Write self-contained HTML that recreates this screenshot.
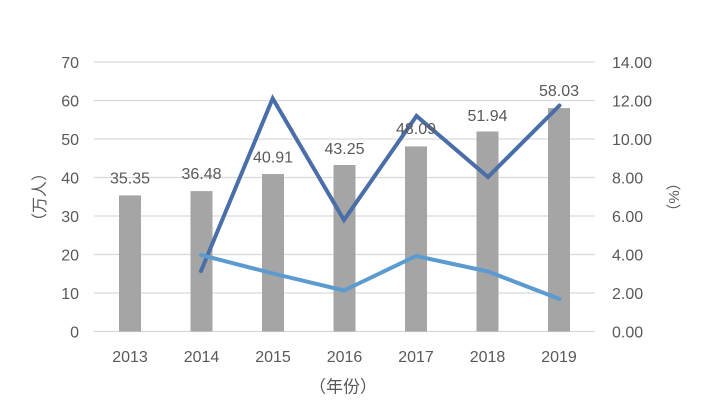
<!DOCTYPE html>
<html>
<head>
<meta charset="utf-8">
<style>
html,body{margin:0;padding:0;background:#fff;}
svg{display:block;}
text{font-family:"Liberation Sans","Noto Sans CJK SC",sans-serif;fill:#595959;}
</style>
</head>
<body>
<svg width="714" height="407" viewBox="0 0 714 407" xmlns="http://www.w3.org/2000/svg">
  <rect width="714" height="407" fill="#fff"/>
  <!-- gridlines -->
  <g stroke="#d9d9d9" stroke-width="1.2">
    <line x1="94" y1="62" x2="595" y2="62"/>
    <line x1="94" y1="100.5" x2="595" y2="100.5"/>
    <line x1="94" y1="139" x2="595" y2="139"/>
    <line x1="94" y1="177.5" x2="595" y2="177.5"/>
    <line x1="94" y1="216" x2="595" y2="216"/>
    <line x1="94" y1="254.5" x2="595" y2="254.5"/>
    <line x1="94" y1="293" x2="595" y2="293"/>
    <line x1="94" y1="331.5" x2="595" y2="331.5"/>
  </g>
  <!-- bars -->
  <g fill="#a5a5a5">
    <rect x="119" y="195.4" width="22" height="136.1"/>
    <rect x="190.5" y="191.1" width="22" height="140.4"/>
    <rect x="262" y="174" width="22" height="157.5"/>
    <rect x="333.5" y="165" width="22" height="166.5"/>
    <rect x="405" y="146.4" width="22" height="185.1"/>
    <rect x="476.5" y="131.5" width="22" height="200"/>
    <rect x="548" y="108.1" width="22" height="223.4"/>
  </g>
  <!-- dark line -->
  <polyline fill="none" stroke="#4a6ea8" stroke-width="4" stroke-linejoin="miter" stroke-linecap="round"
    points="201,271 272.7,98.5 344,220 416.5,116 488,177 559.5,105.5"/>
  <!-- light line -->
  <polyline fill="none" stroke="#5b9bcf" stroke-width="4" stroke-linejoin="round" stroke-linecap="round"
    points="201,255 273,273.5 344,290.5 416,256 488,271.5 559.5,299"/>
  <!-- data labels -->
  <g font-size="16" text-anchor="middle" fill="#404040">
    <text x="130" y="183.5">35.35</text>
    <text x="201.5" y="179">36.48</text>
    <text x="273" y="162.5">40.91</text>
    <text x="344.5" y="154">43.25</text>
    <text x="416" y="134">48.09</text>
    <text x="487.5" y="121">51.94</text>
    <text x="559" y="96">58.03</text>
  </g>
  <!-- left ticks -->
  <g font-size="16" text-anchor="end">
    <text x="79" y="68">70</text>
    <text x="79" y="106.5">60</text>
    <text x="79" y="145">50</text>
    <text x="79" y="183.5">40</text>
    <text x="79" y="222">30</text>
    <text x="79" y="260.5">20</text>
    <text x="79" y="299">10</text>
    <text x="79" y="337.5">0</text>
  </g>
  <!-- right ticks -->
  <g font-size="16" text-anchor="start">
    <text x="612" y="68">14.00</text>
    <text x="612" y="106.5">12.00</text>
    <text x="612" y="145">10.00</text>
    <text x="612" y="183.5">8.00</text>
    <text x="612" y="222">6.00</text>
    <text x="612" y="260.5">4.00</text>
    <text x="612" y="299">2.00</text>
    <text x="612" y="337.5">0.00</text>
  </g>
  <!-- x labels -->
  <g font-size="16" text-anchor="middle">
    <text x="130" y="362">2013</text>
    <text x="201.5" y="362">2014</text>
    <text x="273" y="362">2015</text>
    <text x="344.5" y="362">2016</text>
    <text x="416" y="362">2017</text>
    <text x="487.5" y="362">2018</text>
    <text x="559" y="362">2019</text>
  </g>
  <!-- axis titles -->
  <text x="343" y="392.5" font-size="17" text-anchor="middle">（年份）</text>
  <text transform="translate(45,197) rotate(-90)" font-size="16" text-anchor="middle">（万人）</text>
  <text transform="translate(679,197) rotate(-90)" font-size="15" text-anchor="middle">（%）</text>
</svg>
</body>
</html>
